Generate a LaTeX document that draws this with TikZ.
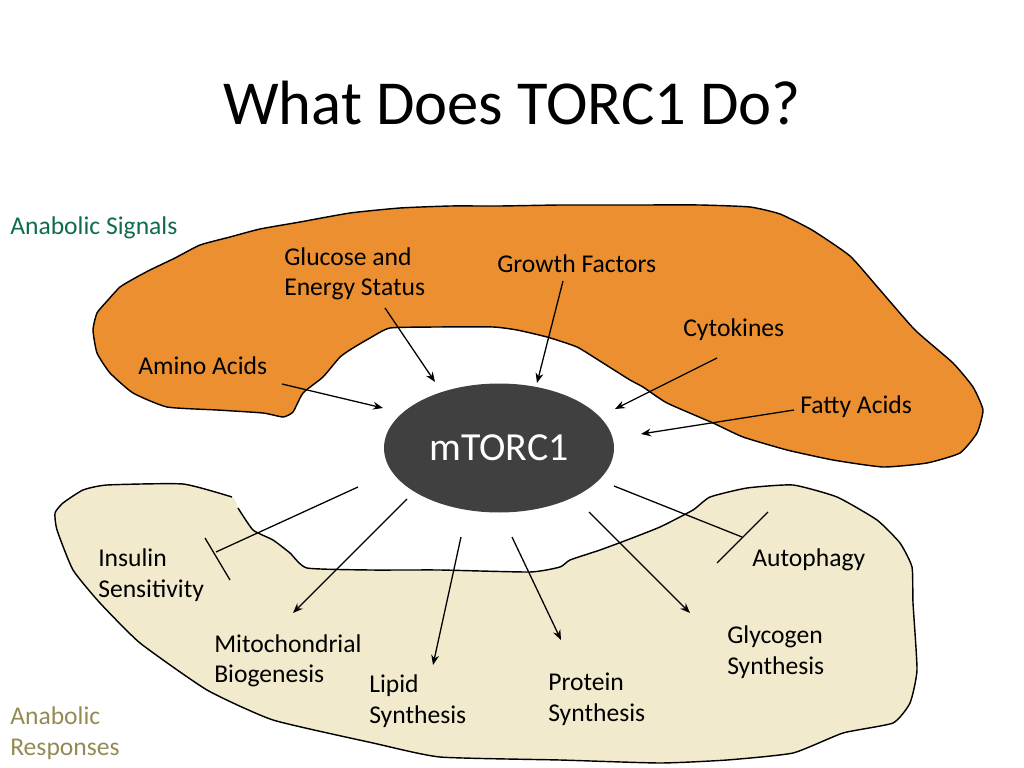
\documentclass[tikz,border=0pt]{standalone}
\usepackage{fontspec}
\setmainfont{Carlito}
\usetikzlibrary{arrows.meta,shapes.geometric}
\definecolor{sigorange}{HTML}{EB8F30}
\definecolor{respbeige}{HTML}{F2EACD}
\definecolor{siggreen}{HTML}{0E6B50}
\definecolor{resptan}{HTML}{948A54}
\definecolor{coredark}{HTML}{404040}
\tikzset{
  lbl/.style={anchor=west, align=left, inner sep=0pt, font=\fontsize{18}{21.5}\selectfont},
  outline/.style={draw=black, line width=1pt, line join=round},
  act/.style={line width=0.9pt, -{Stealth[length=7pt,width=5.5pt]}},
  inh/.style={line width=0.9pt},
  bar/.style={line width=0.9pt},
}
\begin{document}
\begin{tikzpicture}[x=0.703125pt, y=-0.703125pt]
\useasboundingbox (0,0) rectangle (1024,768);

% Anabolic signals region (orange)
\def\orangepts{(93,330) (97,313) (108,300) (120,287) (135,278) (150,270) (175,258) (200,245) (230,237) (260,229) (300,222) (350,213) (400,208) (450,206) (500,206) (560,205) (633,205) (700,205) (750,207) (780,214) (812,230) (850,256) (880,290) (915,330) (953,363) (973,387) (983,410) (977,433) (960,453) (927,463) (883,467) (833,460) (787,450) (743,437) (713,423) (667,403) (643,387) (630,380) (603,363) (577,347) (547,337) (517,330) (493,327) (437,327) (390,328) (370,338) (353,348) (340,357) (323,377) (303,393) (293,412) (283,417) (263,413) (217,410) (167,407) (133,393) (110,373) (97,353)}
\fill[sigorange] plot[smooth cycle, tension=0.3] coordinates {\orangepts};
\draw[outline] plot[smooth cycle, tension=0.3] coordinates {\orangepts};

% Anabolic responses region (beige)
\def\beigepts{(238,508) (253,530) (273,540) (290,553) (307,568) (370,570) (440,570) (530,572) (560,567) (570,560) (600,550) (627,540) (660,527) (693,510) (710,497) (747,488) (793,485) (837,497) (877,520) (900,543) (912,567) (913,603) (917,670) (910,703) (893,723) (843,733) (793,753) (727,760) (660,763) (560,760) (440,757) (373,743) (273,720) (207,690) (140,643) (100,603) (73,570) (57,530) (55,513) (63,503) (83,490) (107,485) (183,484) (232,497)}
\fill[respbeige] plot[smooth cycle, tension=0.3] coordinates {\beigepts};
\draw[outline] plot[smooth, tension=0.3] coordinates {\beigepts};

% Title
\node[inner sep=0pt, font=\fontsize{44}{50}\selectfont] (title) at (512,103) {What Does TORC1 Do?};

% Side labels
\node[lbl, text=siggreen] (signals) at (10,228) {Anabolic Signals};
\node[lbl, text=resptan] (responses) at (10,733) {Anabolic\\Responses};

% Central node
\node[ellipse, fill=coredark, minimum width=161.7pt, minimum height=90.7pt, inner sep=0pt,
      text=white, font=\fontsize{28}{32}\selectfont] (mtorc) at (499,448) {\raisebox{-2.5pt}{mTORC1}};

% Signal labels
\node[lbl] (glucose) at (284,274) {Glucose and\\Energy Status};
\node[lbl] (growth) at (497,264) {Growth Factors};
\node[lbl] (cyto) at (683,330) {Cytokines};
\node[lbl] (amino) at (138,366) {Amino Acids};
\node[lbl] (fatty) at (800,407) {Fatty Acids};

% Response labels
\node[lbl] (insulin) at (98,575) {Insulin\\Sensitivity};
\node[lbl] (autoph) at (752,560) {Autophagy};
\node[lbl] (mito) at (214,661) {Mitochondrial\\Biogenesis};
\node[lbl] (glyco) at (727,652) {Glycogen\\Synthesis};
\node[lbl] (lipid) at (369,701) {Lipid\\Synthesis};
\node[lbl] (protein) at (548,699) {Protein\\Synthesis};

% Connector end points
\coordinate (aa0) at (282,384);  \coordinate (aa1) at (383,408);
\coordinate (gl0) at (385,308);  \coordinate (gl1) at (435,382);
\coordinate (gf0) at (563,281);  \coordinate (gf1) at (537,383);
\coordinate (cy0) at (717,358);  \coordinate (cy1) at (615,409);
\coordinate (fa0) at (794,410);  \coordinate (fa1) at (641,434);

\coordinate (in0) at (358,487);  \coordinate (in1) at (216,552);
\coordinate (inb0) at (205,538); \coordinate (inb1) at (230,580);
\coordinate (mi0) at (407,499);  \coordinate (mi1) at (293,613);
\coordinate (li0) at (461,537);  \coordinate (li1) at (433,665);
\coordinate (pr0) at (512,537);  \coordinate (pr1) at (561,640);
\coordinate (gy0) at (589,512);  \coordinate (gy1) at (690,613);
\coordinate (au0) at (614,486);  \coordinate (au1) at (742,537);
\coordinate (aub0) at (768,512); \coordinate (aub1) at (717,563);

% Activating inputs
\draw[act] (aa0) -- (aa1);
\draw[act] (gl0) -- (gl1);
\draw[act] (gf0) -- (gf1);
\draw[act] (cy0) -- (cy1);
\draw[act] (fa0) -- (fa1);

% Outputs
\draw[inh] (in0) -- (in1);
\draw[bar] (inb0) -- (inb1);
\draw[act] (mi0) -- (mi1);
\draw[act] (li0) -- (li1);
\draw[act] (pr0) -- (pr1);
\draw[act] (gy0) -- (gy1);
\draw[inh] (au0) -- (au1);
\draw[bar] (aub0) -- (aub1);
\end{tikzpicture}
\end{document}
